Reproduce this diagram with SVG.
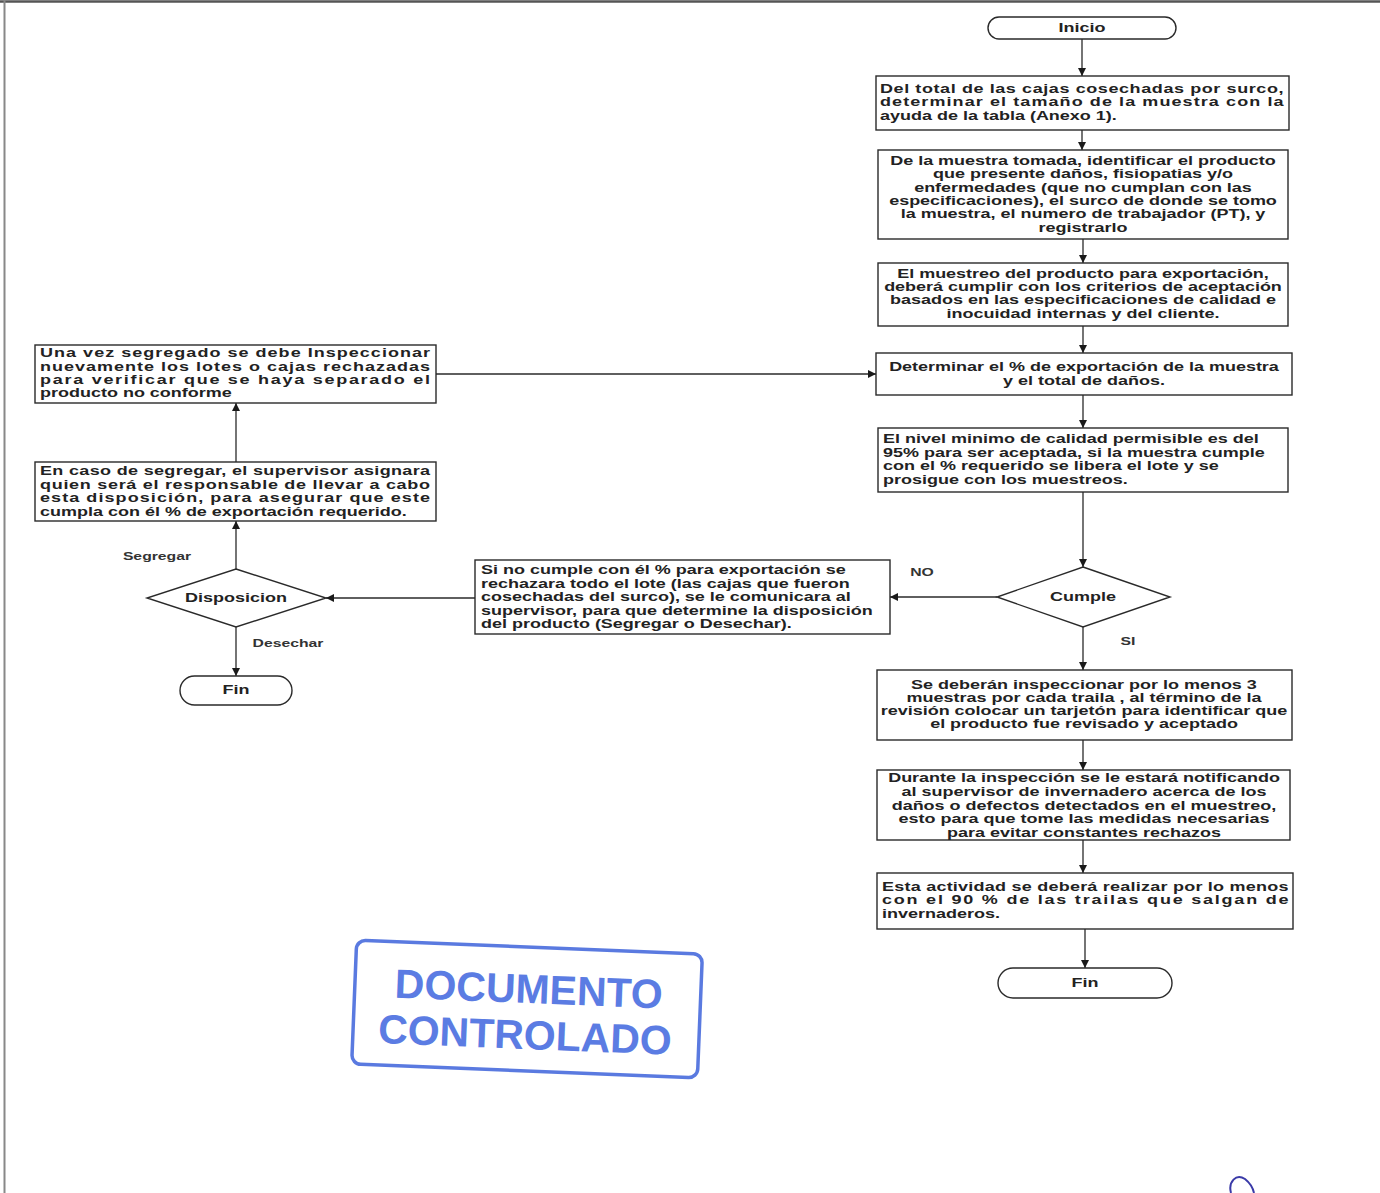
<svg xmlns="http://www.w3.org/2000/svg" width="1380" height="1193" viewBox="0 0 1380 1193">
<defs>
<marker id="arr" viewBox="0 0 10 10" refX="10" refY="5" markerWidth="8" markerHeight="8" markerUnits="userSpaceOnUse" orient="auto">
<path d="M0,0 L10,5 L0,10 z" fill="#1a1a1a"/>
</marker>
<style>
.box{fill:#fff;stroke:#2a2a2a;stroke-width:1.4}
.t{font-family:"Liberation Sans",Arial,sans-serif;font-size:12px;font-weight:bold;fill:#222}
.s{font-family:"Liberation Sans",Arial,sans-serif;font-size:10.5px;font-weight:bold;fill:#333}
.c{text-anchor:middle}
.con{fill:none;stroke:#2a2a2a;stroke-width:1.3;marker-end:url(#arr)}
.stamp{font-family:"Liberation Sans",Arial,sans-serif;font-size:41px;font-weight:bold;fill:#4a6ee0;text-anchor:middle;opacity:0.9}
</style>
</defs>
<rect width="1380" height="1193" fill="#fff"/>
<line x1="0" y1="1.5" x2="1380" y2="1.5" stroke="#555" stroke-width="2.5"/>
<line x1="4.5" y1="0" x2="4.5" y2="1193" stroke="#888" stroke-width="2"/>

<g id="connectors">
<path class="con" d="M1082 39 V76"/>
<path class="con" d="M1082 130 V150"/>
<path class="con" d="M1083 239 V263"/>
<path class="con" d="M1083 326 V353"/>
<path class="con" d="M1083 395 V428"/>
<path class="con" d="M1083 492 V567"/>
<path class="con" d="M997 597 H890"/>
<path class="con" d="M475 598 H326"/>
<path class="con" d="M236 569 V521"/>
<path class="con" d="M236 462 V403"/>
<path class="con" d="M436 374 H876"/>
<path class="con" d="M236 627 V676"/>
<path class="con" d="M1083 627 V670"/>
<path class="con" d="M1083 740 V770"/>
<path class="con" d="M1083 840 V873"/>
<path class="con" d="M1085 929 V968"/>
</g>

<g id="inicio">
<rect class="box" x="988" y="17" width="188" height="22" rx="11"/>
<g transform="translate(1082 0) scale(1.5 1)"><text class="t c" x="0" y="32">Inicio</text></g>
</g>

<g id="box1">
<rect class="box" x="876" y="76" width="413" height="54"/>
<g transform="translate(880 0) scale(1.5 1)">
<text class="t" x="0" y="93" textLength="269" lengthAdjust="spacing">Del total de las cajas cosechadas por surco,</text>
<text class="t" x="0" y="106" textLength="269" lengthAdjust="spacing">determinar el tamaño de la muestra con la</text>
<text class="t" x="0" y="120">ayuda de la tabla (Anexo 1).</text>
</g>
</g>

<g id="box2">
<rect class="box" x="878" y="150" width="410" height="89"/>
<g transform="translate(1083 0) scale(1.5 1)">
<text class="t c" x="0" y="165">De la muestra tomada, identificar el producto</text>
<text class="t c" x="0" y="178">que presente daños, fisiopatias y/o</text>
<text class="t c" x="0" y="192">enfermedades (que no cumplan con las</text>
<text class="t c" x="0" y="205">especificaciones), el surco de donde se tomo</text>
<text class="t c" x="0" y="218">la muestra, el numero de trabajador (PT), y</text>
<text class="t c" x="0" y="232">registrarlo</text>
</g>
</g>

<g id="box3">
<rect class="box" x="878" y="263" width="410" height="63"/>
<g transform="translate(1083 0) scale(1.5 1)">
<text class="t c" x="0" y="278">El muestreo del producto para exportación,</text>
<text class="t c" x="0" y="291">deberá cumplir con los criterios de aceptación</text>
<text class="t c" x="0" y="304">basados en las especificaciones de calidad e</text>
<text class="t c" x="0" y="318">inocuidad internas y del cliente.</text>
</g>
</g>

<g id="box4">
<rect class="box" x="876" y="353" width="416" height="42"/>
<g transform="translate(1084 0) scale(1.5 1)">
<text class="t c" x="0" y="371">Determinar el % de exportación de la muestra</text>
<text class="t c" x="0" y="385">y el total de daños.</text>
</g>
</g>

<g id="box5">
<rect class="box" x="878" y="428" width="410" height="64"/>
<g transform="translate(883 0) scale(1.5 1)">
<text class="t" x="0" y="443">El nivel minimo de calidad permisible es del</text>
<text class="t" x="0" y="457">95% para ser aceptada, si la muestra cumple</text>
<text class="t" x="0" y="470">con el % requerido se libera el lote y se</text>
<text class="t" x="0" y="484">prosigue con los muestreos.</text>
</g>
</g>

<g id="cumple">
<polygon class="box" points="1083,567 1170,597 1083,627 997,597"/>
<g transform="translate(1083 0) scale(1.5 1)"><text class="t c" x="0" y="601">Cumple</text></g>
<g transform="translate(922 0) scale(1.5 1)"><text class="s c" x="0" y="576">NO</text></g>
<g transform="translate(1128 0) scale(1.5 1)"><text class="s c" x="0" y="645">SI</text></g>
</g>

<g id="rechazo">
<rect class="box" x="475" y="560" width="415" height="74"/>
<g transform="translate(481 0) scale(1.5 1)">
<text class="t" x="0" y="574">Si no cumple con él % para exportación se</text>
<text class="t" x="0" y="588">rechazara todo el lote (las cajas que fueron</text>
<text class="t" x="0" y="601">cosechadas del surco), se le comunicara al</text>
<text class="t" x="0" y="615">supervisor, para que determine la disposición</text>
<text class="t" x="0" y="628">del producto (Segregar o Desechar).</text>
</g>
</g>

<g id="disposicion">
<polygon class="box" points="236,569 326,598 236,627 147,598"/>
<g transform="translate(236 0) scale(1.5 1)"><text class="t c" x="0" y="602">Disposicion</text></g>
<g transform="translate(157 0) scale(1.5 1)"><text class="s c" x="0" y="560">Segregar</text></g>
<g transform="translate(288 0) scale(1.5 1)"><text class="s c" x="0" y="647">Desechar</text></g>
</g>

<g id="fin-izq">
<rect class="box" x="180" y="676" width="112" height="29" rx="14.5"/>
<g transform="translate(236 0) scale(1.5 1)"><text class="t c" x="0" y="694">Fin</text></g>
</g>

<g id="segregar">
<rect class="box" x="35" y="462" width="401" height="59"/>
<g transform="translate(40 0) scale(1.5 1)">
<text class="t" x="0" y="475" textLength="260" lengthAdjust="spacing">En caso de segregar, el supervisor asignara</text>
<text class="t" x="0" y="489" textLength="260" lengthAdjust="spacing">quien será el responsable de llevar a cabo</text>
<text class="t" x="0" y="502" textLength="260" lengthAdjust="spacing">esta disposición,  para asegurar que este</text>
<text class="t" x="0" y="516">cumpla con él % de exportación requerido.</text>
</g>
</g>

<g id="reinspeccion">
<rect class="box" x="35" y="345" width="401" height="58"/>
<g transform="translate(40 0) scale(1.5 1)">
<text class="t" x="0" y="357" textLength="260" lengthAdjust="spacing">Una vez segregado se debe Inspeccionar</text>
<text class="t" x="0" y="371" textLength="260" lengthAdjust="spacing">nuevamente los lotes o cajas rechazadas</text>
<text class="t" x="0" y="384" textLength="260" lengthAdjust="spacing">para verificar que se haya separado el</text>
<text class="t" x="0" y="397">producto no conforme</text>
</g>
</g>

<g id="box6">
<rect class="box" x="877" y="670" width="415" height="70"/>
<g transform="translate(1084 0) scale(1.5 1)">
<text class="t c" x="0" y="689">Se deberán inspeccionar por lo menos 3</text>
<text class="t c" x="0" y="702">muestras por cada traila , al término de la</text>
<text class="t c" x="0" y="715">revisión colocar un tarjetón para identificar que</text>
<text class="t c" x="0" y="728">el producto fue revisado y aceptado</text>
</g>
</g>

<g id="box7">
<rect class="box" x="877" y="770" width="413" height="70"/>
<g transform="translate(1084 0) scale(1.5 1)">
<text class="t c" x="0" y="782">Durante la inspección se le estará notificando</text>
<text class="t c" x="0" y="796">al supervisor de invernadero acerca de los</text>
<text class="t c" x="0" y="810">daños o defectos detectados en el muestreo,</text>
<text class="t c" x="0" y="823">esto para que tome las medidas necesarias</text>
<text class="t c" x="0" y="837">para evitar constantes rechazos</text>
</g>
</g>

<g id="box8">
<rect class="box" x="877" y="873" width="416" height="56"/>
<g transform="translate(882 0) scale(1.5 1)">
<text class="t" x="0" y="891" textLength="271" lengthAdjust="spacing">Esta actividad se deberá realizar por lo menos</text>
<text class="t" x="0" y="904" textLength="271" lengthAdjust="spacing">con el 90 % de las trailas que salgan de</text>
<text class="t" x="0" y="918">invernaderos.</text>
</g>
</g>

<g id="fin-der">
<rect class="box" x="998" y="968" width="174" height="30" rx="15"/>
<g transform="translate(1085 0) scale(1.5 1)"><text class="t c" x="0" y="987">Fin</text></g>
</g>

<g id="sello" transform="rotate(2.3 527 1010)">
<rect x="354" y="947" width="346" height="124" rx="9" fill="none" stroke="#3d63db" stroke-width="3.5" opacity="0.85"/>
<text class="stamp" x="528" y="1003">DOCUMENTO</text>
<text class="stamp" x="526" y="1049">CONTROLADO</text>
</g>

<path d="M1231 1193 C1228 1182 1236 1173 1245 1179 C1250 1183 1253 1188 1254 1193" fill="none" stroke="#3a3aa8" stroke-width="2"/>
</svg>
